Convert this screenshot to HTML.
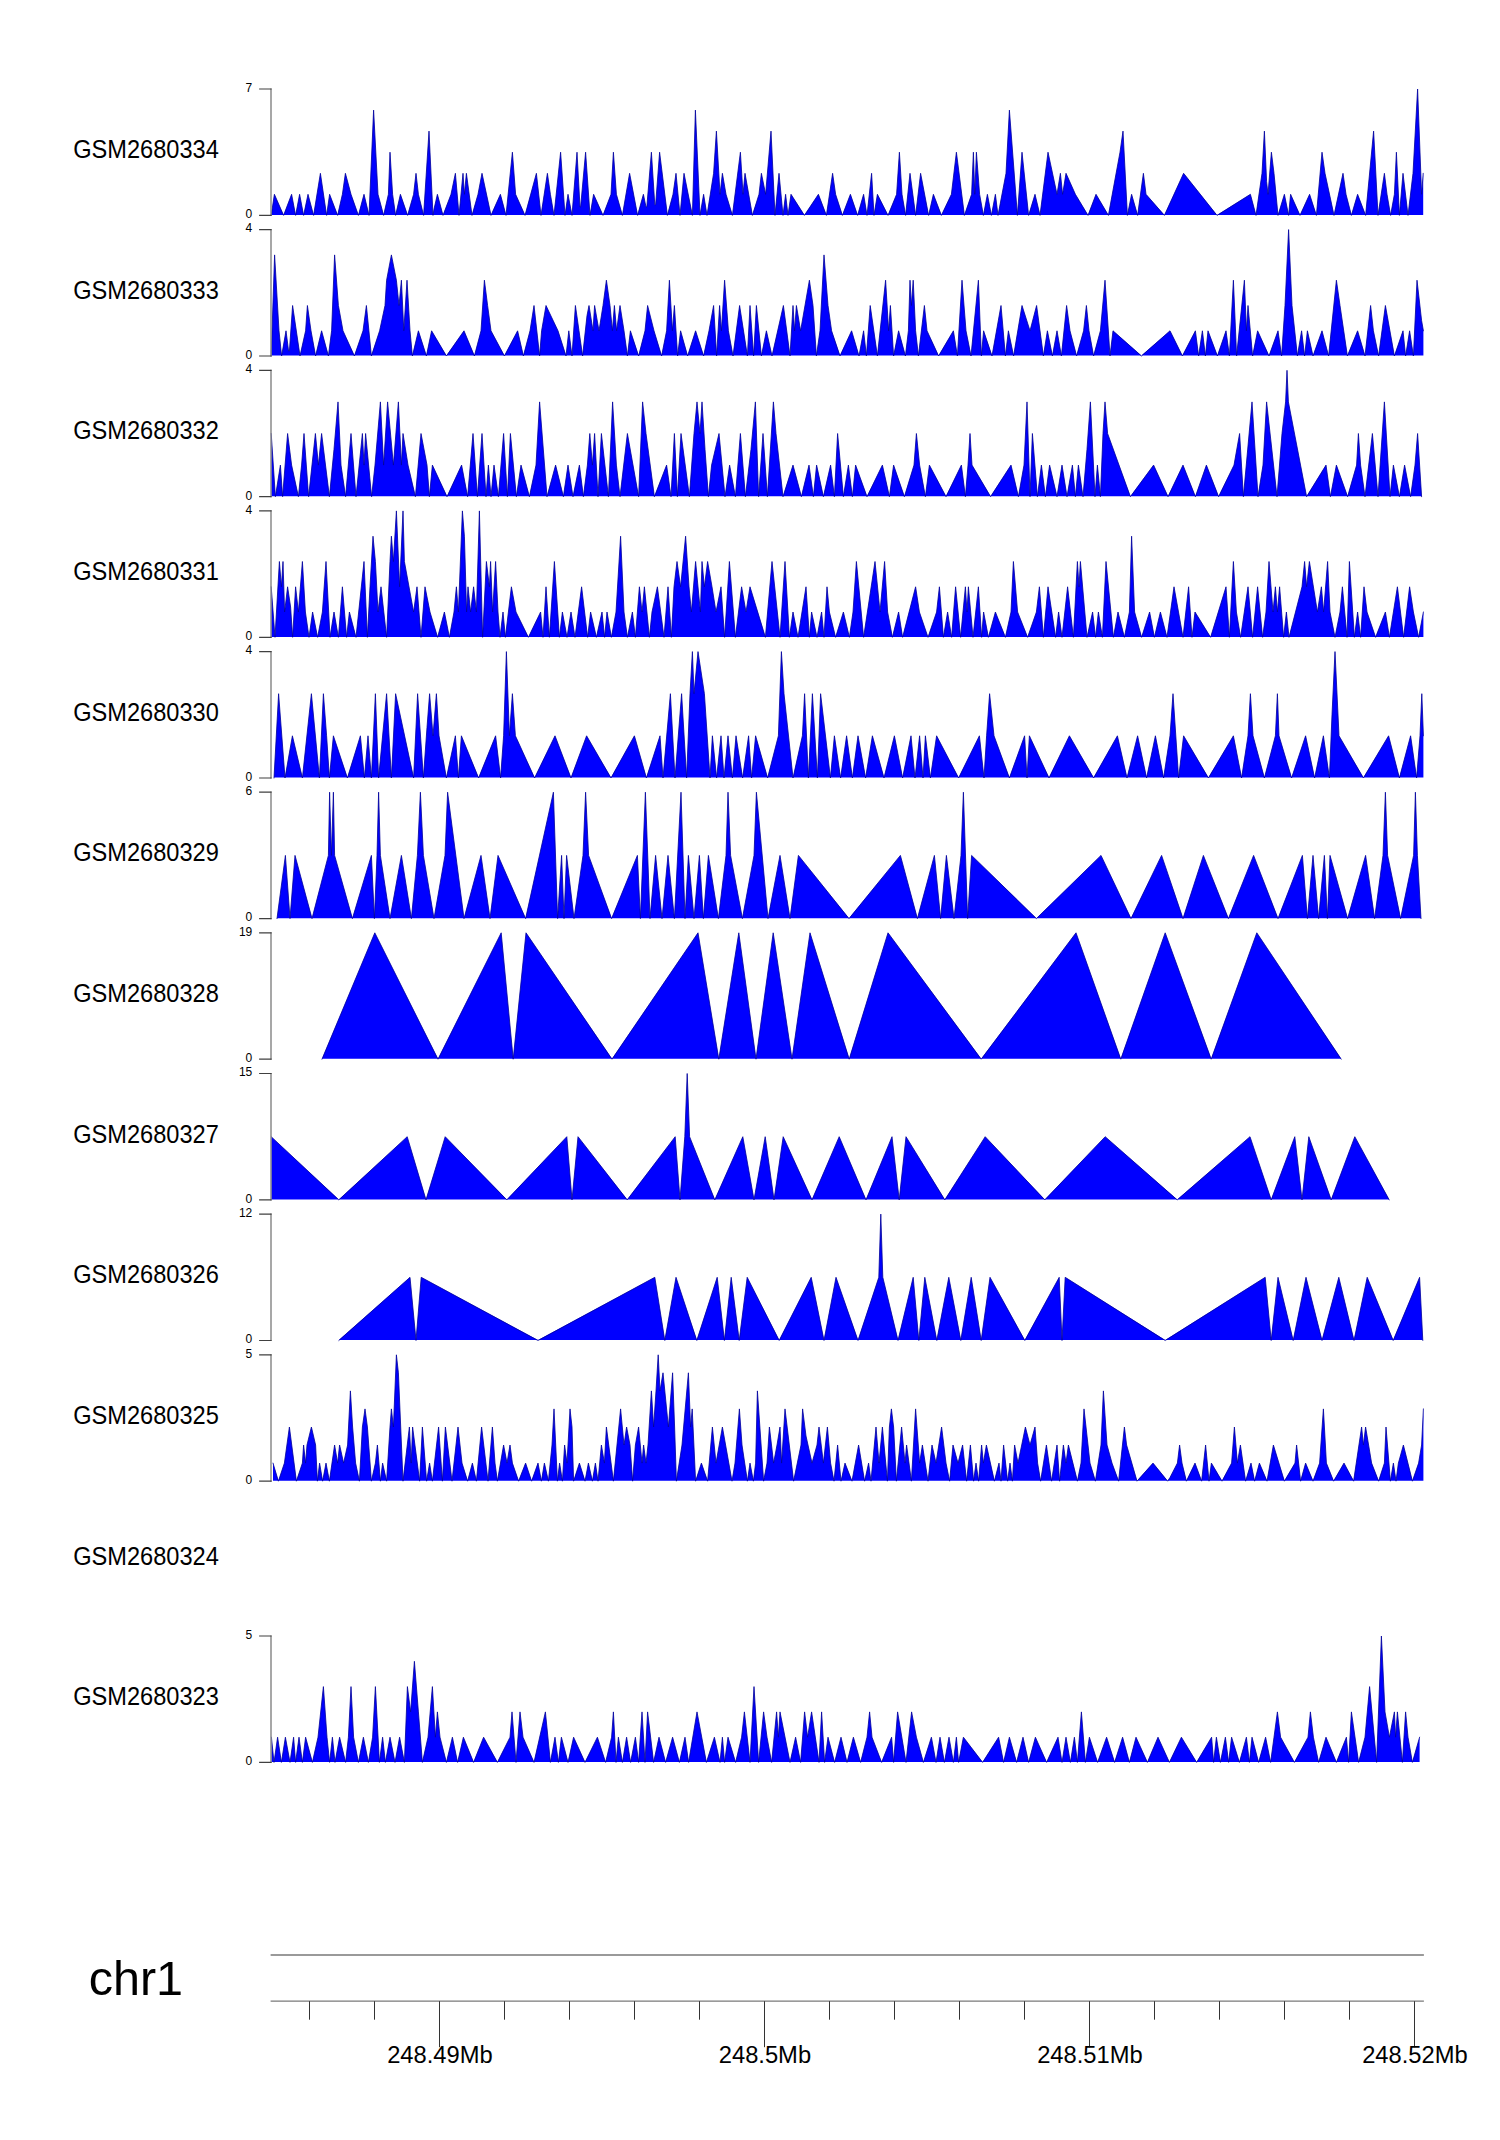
<!DOCTYPE html><html><head><meta charset="utf-8"><title>chr1 tracks</title><style>html,body{margin:0;padding:0;background:#fff}svg{display:block}text{font-family:"Liberation Sans",sans-serif;fill:#000}</style></head><body>
<svg width="1500" height="2140" viewBox="0 0 1500 2140">
<rect width="1500" height="2140" fill="#fff"/>
<text transform="translate(73.2 158.1) scale(0.976 1.03)" font-size="24.2">GSM2680334</text>
<polygon points="271.2,215.0 271.2,215.0 274.4,194.3 283.6,215.0 291.6,194.3 295.6,215.0 299.6,194.3 303.6,215.0 308.0,194.3 313.6,215.0 320.4,173.3 326.6,215.0 329.6,194.3 337.6,215.0 342.4,194.3 345.4,173.3 351.0,194.3 358.4,215.0 364.0,194.3 369.0,215.0 373.6,110.1 378.0,194.3 383.6,215.0 388.4,194.3 390.0,152.2 392.6,194.3 395.6,215.0 400.4,194.3 407.6,215.0 413.6,194.3 416.0,173.3 418.4,194.3 423.6,215.0 429.0,131.1 433.0,215.0 434.0,209.1 437.4,194.3 443.0,215.0 451.0,194.3 455.4,173.3 459.0,215.0 463.0,173.3 464.4,194.3 466.4,173.3 472.0,215.0 478.0,194.3 482.0,173.3 491.0,215.0 500.4,194.3 506.0,215.0 512.4,152.2 515.6,194.3 525.0,215.0 536.4,173.3 541.0,215.0 547.4,173.3 550.4,194.3 554.0,215.0 560.6,152.2 565.0,215.0 568.0,194.3 572.0,215.0 577.0,152.2 580.0,207.0 580.6,207.0 585.6,152.2 590.0,215.0 593.6,194.3 603.0,215.0 611.0,194.3 613.4,152.2 616.4,194.3 622.4,215.0 629.6,173.3 637.6,215.0 643.4,194.3 646.0,207.0 646.8,207.0 651.4,152.2 654.8,204.9 655.6,204.9 659.6,152.2 667.4,215.0 673.0,194.3 676.0,173.3 680.0,215.0 684.0,173.3 692.4,215.0 695.4,110.1 700.0,215.0 703.6,194.3 707.0,215.0 713.6,173.3 716.4,131.1 720.0,194.3 722.4,173.3 726.0,194.3 732.4,215.0 740.4,152.2 743.0,194.3 745.0,173.3 752.4,215.0 759.0,194.3 761.4,173.3 765.6,194.3 771.0,131.1 775.0,215.0 779.0,173.3 783.0,215.0 785.6,194.3 788.0,215.0 791.0,194.3 804.4,215.0 818.4,194.3 826.4,215.0 832.6,173.3 835.6,194.3 842.4,215.0 850.4,194.3 857.6,215.0 863.6,194.3 867.0,215.0 871.6,173.3 874.0,215.0 877.4,194.3 888.0,215.0 896.6,194.3 899.4,152.2 902.0,194.3 905.6,215.0 910.0,173.3 915.6,215.0 920.6,173.3 928.6,215.0 933.4,194.3 941.4,215.0 951.4,194.3 956.4,152.2 964.4,215.0 971.6,194.3 973.4,152.2 974.8,194.3 976.4,152.2 979.6,194.3 983.4,215.0 987.4,194.3 991.4,215.0 995.4,194.3 998.0,215.0 1006.0,173.3 1009.4,110.1 1017.4,215.0 1022.0,152.2 1028.6,215.0 1035.0,194.3 1040.0,215.0 1048.0,152.2 1057.0,194.3 1060.4,173.3 1062.6,194.3 1066.0,173.3 1075.4,194.3 1088.0,215.0 1096.0,194.3 1108.4,215.0 1120.0,152.2 1123.0,131.1 1127.4,215.0 1131.6,194.3 1137.6,215.0 1143.4,173.3 1146.0,194.3 1164.4,215.0 1183.6,173.3 1217.0,215.0 1250.4,194.3 1256.0,215.0 1262.0,173.3 1264.4,131.1 1266.6,181.7 1268.0,194.3 1271.4,152.2 1274.0,173.3 1278.0,215.0 1284.4,194.3 1288.6,215.0 1290.6,194.3 1300.0,215.0 1309.6,194.3 1316.4,215.0 1322.0,152.2 1325.0,173.3 1334.0,215.0 1343.0,173.3 1346.0,194.3 1351.4,215.0 1357.6,194.3 1365.6,215.0 1373.6,131.1 1378.0,215.0 1384.4,173.3 1387.0,194.3 1390.6,215.0 1394.4,194.3 1396.4,152.2 1399.4,215.0 1403.0,173.3 1408.0,215.0 1413.0,173.3 1417.6,89.0 1421.6,194.3 1423.2,173.3 1423.2,215.0" fill="#0000ff"/>
<polyline points="271.2,215.4 274.4,194.3 283.6,215.4 291.6,194.3 295.6,215.4 299.6,194.3 303.6,215.4 308.0,194.3 313.6,215.4 320.4,173.3 326.6,215.4 329.6,194.3 337.6,215.4 342.4,194.3 345.4,173.3 351.0,194.3 358.4,215.4 364.0,194.3 369.0,215.4 373.6,110.1 378.0,194.3 383.6,215.4 388.4,194.3 390.0,152.2 392.6,194.3 395.6,215.4 400.4,194.3 407.6,215.4 413.6,194.3 416.0,173.3 418.4,194.3 423.6,215.4 429.0,131.1 433.0,215.4 434.0,209.1 437.4,194.3 443.0,215.4 451.0,194.3 455.4,173.3 459.0,215.4 463.0,173.3 464.4,194.3 466.4,173.3 472.0,215.4 478.0,194.3 482.0,173.3 491.0,215.4 500.4,194.3 506.0,215.4 512.4,152.2 515.6,194.3 525.0,215.4 536.4,173.3 541.0,215.4 547.4,173.3 550.4,194.3 554.0,215.4 560.6,152.2 565.0,215.4 568.0,194.3 572.0,215.4 577.0,152.2 580.0,207.0 580.6,207.0 585.6,152.2 590.0,215.4 593.6,194.3 603.0,215.4 611.0,194.3 613.4,152.2 616.4,194.3 622.4,215.4 629.6,173.3 637.6,215.4 643.4,194.3 646.0,207.0 646.8,207.0 651.4,152.2 654.8,204.9 655.6,204.9 659.6,152.2 667.4,215.4 673.0,194.3 676.0,173.3 680.0,215.4 684.0,173.3 692.4,215.4 695.4,110.1 700.0,215.4 703.6,194.3 707.0,215.4 713.6,173.3 716.4,131.1 720.0,194.3 722.4,173.3 726.0,194.3 732.4,215.4 740.4,152.2 743.0,194.3 745.0,173.3 752.4,215.4 759.0,194.3 761.4,173.3 765.6,194.3 771.0,131.1 775.0,215.4 779.0,173.3 783.0,215.4 785.6,194.3 788.0,215.4 791.0,194.3 804.4,215.4 818.4,194.3 826.4,215.4 832.6,173.3 835.6,194.3 842.4,215.4 850.4,194.3 857.6,215.4 863.6,194.3 867.0,215.4 871.6,173.3 874.0,215.4 877.4,194.3 888.0,215.4 896.6,194.3 899.4,152.2 902.0,194.3 905.6,215.4 910.0,173.3 915.6,215.4 920.6,173.3 928.6,215.4 933.4,194.3 941.4,215.4 951.4,194.3 956.4,152.2 964.4,215.4 971.6,194.3 973.4,152.2 974.8,194.3 976.4,152.2 979.6,194.3 983.4,215.4 987.4,194.3 991.4,215.4 995.4,194.3 998.0,215.4 1006.0,173.3 1009.4,110.1 1017.4,215.4 1022.0,152.2 1028.6,215.4 1035.0,194.3 1040.0,215.4 1048.0,152.2 1057.0,194.3 1060.4,173.3 1062.6,194.3 1066.0,173.3 1075.4,194.3 1088.0,215.4 1096.0,194.3 1108.4,215.4 1120.0,152.2 1123.0,131.1 1127.4,215.4 1131.6,194.3 1137.6,215.4 1143.4,173.3 1146.0,194.3 1164.4,215.4 1183.6,173.3 1217.0,215.4 1250.4,194.3 1256.0,215.4 1262.0,173.3 1264.4,131.1 1266.6,181.7 1268.0,194.3 1271.4,152.2 1274.0,173.3 1278.0,215.4 1284.4,194.3 1288.6,215.4 1290.6,194.3 1300.0,215.4 1309.6,194.3 1316.4,215.4 1322.0,152.2 1325.0,173.3 1334.0,215.4 1343.0,173.3 1346.0,194.3 1351.4,215.4 1357.6,194.3 1365.6,215.4 1373.6,131.1 1378.0,215.4 1384.4,173.3 1387.0,194.3 1390.6,215.4 1394.4,194.3 1396.4,152.2 1399.4,215.4 1403.0,173.3 1408.0,215.4 1413.0,173.3 1417.6,89.0 1421.6,194.3 1423.2,173.3" fill="none" stroke="#00009b" stroke-width="0.8" stroke-linejoin="round" stroke-linecap="round"/>
<path d="M271 88.4V216.0" fill="none" stroke="#8a8a8a" stroke-width="1.5"/>
<path d="M259.1 89.0H271.6M259.1 215.4H271.6" fill="none" stroke="#404040" stroke-width="1.2"/>
<text x="252.3" y="91.8" font-size="12" text-anchor="end">7</text>
<text x="252.3" y="218.2" font-size="12" text-anchor="end">0</text>
<text transform="translate(73.2 298.7) scale(0.976 1.03)" font-size="24.2">GSM2680333</text>
<polygon points="271.2,355.6 271.2,355.6 274.6,254.9 279.0,330.8 281.6,355.6 286.0,330.8 288.6,351.0 289.4,351.0 292.6,305.5 300.0,355.6 305.6,330.8 307.4,305.5 311.0,330.8 315.6,355.6 321.6,330.8 328.4,355.6 331.6,330.8 334.6,254.9 338.4,305.5 343.0,330.8 354.4,355.6 363.0,330.8 366.4,305.5 371.4,355.6 379.6,330.8 385.0,305.5 386.6,280.2 391.4,254.9 396.4,280.2 399.0,305.5 401.4,280.2 403.8,330.8 407.0,280.2 410.0,330.8 412.4,355.6 418.4,330.8 426.4,355.6 431.6,330.8 446.4,355.6 464.0,330.8 474.4,355.6 481.0,330.8 484.4,280.2 487.6,305.5 491.0,330.8 504.4,355.6 517.6,330.8 523.4,355.6 530.0,330.8 534.0,305.5 539.6,355.6 541.6,330.8 546.0,305.5 558.0,330.8 566.0,355.6 568.8,330.8 572.0,355.6 575.4,305.5 579.0,330.8 582.6,355.6 587.0,315.6 589.0,305.5 593.0,330.8 594.6,305.5 599.0,330.8 603.0,305.5 606.4,280.2 610.0,305.5 612.4,330.8 614.4,305.5 616.6,330.8 620.0,305.5 624.0,330.8 627.4,355.6 630.4,330.8 638.6,355.6 645.0,330.8 647.6,305.5 654.0,330.8 661.6,355.6 666.6,330.8 669.4,280.2 672.4,330.8 674.4,305.5 677.6,355.6 680.6,330.8 687.6,355.6 695.6,330.8 703.6,355.6 709.0,330.8 713.6,305.5 716.6,355.6 719.6,305.5 721.4,330.8 724.6,280.2 728.4,330.8 733.0,355.6 739.6,305.5 747.4,355.6 750.0,305.5 753.6,355.6 756.4,305.5 761.4,355.6 766.4,330.8 772.0,355.6 783.4,305.5 790.0,355.6 793.0,305.5 794.6,330.8 796.4,305.5 800.6,330.8 809.4,280.2 813.0,305.5 816.4,355.6 820.0,330.8 824.0,254.9 828.0,305.5 831.6,330.8 840.0,355.6 851.6,330.8 859.0,355.6 863.6,330.8 866.4,355.6 870.2,305.5 877.4,355.6 885.6,280.2 888.6,330.8 890.4,305.5 893.6,355.6 898.6,330.8 905.4,355.6 908.4,330.8 910.0,280.2 911.4,305.5 913.2,280.2 915.6,330.8 918.4,355.6 924.4,305.5 927.0,330.8 938.6,355.6 953.4,330.8 957.4,355.6 962.0,280.2 966.0,330.8 971.0,355.6 978.4,280.2 981.4,355.6 983.6,330.8 992.0,355.6 1001.0,305.5 1005.4,355.6 1008.4,330.8 1013.6,355.6 1022.0,305.5 1030.0,330.8 1036.6,305.5 1043.4,355.6 1047.4,330.8 1052.4,355.6 1057.0,330.8 1061.4,355.6 1066.6,305.5 1070.0,330.8 1076.6,355.6 1083.6,330.8 1086.4,305.5 1089.0,330.8 1093.6,355.6 1100.4,330.8 1105.0,280.2 1110.0,355.6 1113.0,330.8 1141.4,355.6 1170.0,330.8 1182.4,355.6 1195.4,330.8 1198.6,355.6 1202.4,330.8 1205.4,355.6 1208.0,330.8 1217.4,355.6 1226.0,330.8 1229.4,355.6 1233.4,280.2 1236.6,355.6 1244.4,280.2 1246.4,330.8 1248.0,305.5 1252.6,355.6 1257.6,330.8 1269.0,355.6 1278.0,330.8 1281.6,355.6 1285.0,305.5 1288.6,229.6 1292.0,305.5 1297.4,355.6 1301.6,330.8 1304.6,355.6 1307.4,330.8 1313.0,355.6 1322.0,330.8 1328.6,355.6 1336.4,280.2 1340.0,305.5 1347.4,355.6 1357.6,330.8 1365.0,355.6 1370.6,305.5 1373.4,330.8 1378.6,355.6 1385.4,305.5 1394.4,355.6 1403.0,330.8 1405.6,355.6 1409.6,330.8 1413.4,355.6 1417.0,280.2 1421.6,320.6 1423.4,330.8 1423.4,355.6" fill="#0000ff"/>
<polyline points="271.2,356.0 274.6,254.9 279.0,330.8 281.6,356.0 286.0,330.8 288.6,351.0 289.4,351.0 292.6,305.5 300.0,356.0 305.6,330.8 307.4,305.5 311.0,330.8 315.6,356.0 321.6,330.8 328.4,356.0 331.6,330.8 334.6,254.9 338.4,305.5 343.0,330.8 354.4,356.0 363.0,330.8 366.4,305.5 371.4,356.0 379.6,330.8 385.0,305.5 386.6,280.2 391.4,254.9 396.4,280.2 399.0,305.5 401.4,280.2 403.8,330.8 407.0,280.2 410.0,330.8 412.4,356.0 418.4,330.8 426.4,356.0 431.6,330.8 446.4,356.0 464.0,330.8 474.4,356.0 481.0,330.8 484.4,280.2 487.6,305.5 491.0,330.8 504.4,356.0 517.6,330.8 523.4,356.0 530.0,330.8 534.0,305.5 539.6,356.0 541.6,330.8 546.0,305.5 558.0,330.8 566.0,356.0 568.8,330.8 572.0,356.0 575.4,305.5 579.0,330.8 582.6,356.0 587.0,315.6 589.0,305.5 593.0,330.8 594.6,305.5 599.0,330.8 603.0,305.5 606.4,280.2 610.0,305.5 612.4,330.8 614.4,305.5 616.6,330.8 620.0,305.5 624.0,330.8 627.4,356.0 630.4,330.8 638.6,356.0 645.0,330.8 647.6,305.5 654.0,330.8 661.6,356.0 666.6,330.8 669.4,280.2 672.4,330.8 674.4,305.5 677.6,356.0 680.6,330.8 687.6,356.0 695.6,330.8 703.6,356.0 709.0,330.8 713.6,305.5 716.6,356.0 719.6,305.5 721.4,330.8 724.6,280.2 728.4,330.8 733.0,356.0 739.6,305.5 747.4,356.0 750.0,305.5 753.6,356.0 756.4,305.5 761.4,356.0 766.4,330.8 772.0,356.0 783.4,305.5 790.0,356.0 793.0,305.5 794.6,330.8 796.4,305.5 800.6,330.8 809.4,280.2 813.0,305.5 816.4,356.0 820.0,330.8 824.0,254.9 828.0,305.5 831.6,330.8 840.0,356.0 851.6,330.8 859.0,356.0 863.6,330.8 866.4,356.0 870.2,305.5 877.4,356.0 885.6,280.2 888.6,330.8 890.4,305.5 893.6,356.0 898.6,330.8 905.4,356.0 908.4,330.8 910.0,280.2 911.4,305.5 913.2,280.2 915.6,330.8 918.4,356.0 924.4,305.5 927.0,330.8 938.6,356.0 953.4,330.8 957.4,356.0 962.0,280.2 966.0,330.8 971.0,356.0 978.4,280.2 981.4,356.0 983.6,330.8 992.0,356.0 1001.0,305.5 1005.4,356.0 1008.4,330.8 1013.6,356.0 1022.0,305.5 1030.0,330.8 1036.6,305.5 1043.4,356.0 1047.4,330.8 1052.4,356.0 1057.0,330.8 1061.4,356.0 1066.6,305.5 1070.0,330.8 1076.6,356.0 1083.6,330.8 1086.4,305.5 1089.0,330.8 1093.6,356.0 1100.4,330.8 1105.0,280.2 1110.0,356.0 1113.0,330.8 1141.4,356.0 1170.0,330.8 1182.4,356.0 1195.4,330.8 1198.6,356.0 1202.4,330.8 1205.4,356.0 1208.0,330.8 1217.4,356.0 1226.0,330.8 1229.4,356.0 1233.4,280.2 1236.6,356.0 1244.4,280.2 1246.4,330.8 1248.0,305.5 1252.6,356.0 1257.6,330.8 1269.0,356.0 1278.0,330.8 1281.6,356.0 1285.0,305.5 1288.6,229.6 1292.0,305.5 1297.4,356.0 1301.6,330.8 1304.6,356.0 1307.4,330.8 1313.0,356.0 1322.0,330.8 1328.6,356.0 1336.4,280.2 1340.0,305.5 1347.4,356.0 1357.6,330.8 1365.0,356.0 1370.6,305.5 1373.4,330.8 1378.6,356.0 1385.4,305.5 1394.4,356.0 1403.0,330.8 1405.6,356.0 1409.6,330.8 1413.4,356.0 1417.0,280.2 1421.6,320.6 1423.4,330.8" fill="none" stroke="#00009b" stroke-width="0.8" stroke-linejoin="round" stroke-linecap="round"/>
<path d="M271 229.0V356.6" fill="none" stroke="#8a8a8a" stroke-width="1.5"/>
<path d="M259.1 229.6H271.6M259.1 356.0H271.6" fill="none" stroke="#404040" stroke-width="1.2"/>
<text x="252.3" y="232.4" font-size="12" text-anchor="end">4</text>
<text x="252.3" y="358.8" font-size="12" text-anchor="end">0</text>
<text transform="translate(73.2 439.4) scale(0.976 1.03)" font-size="24.2">GSM2680332</text>
<polygon points="271.2,496.3 271.2,433.5 275.4,496.3 280.4,465.1 282.6,496.3 287.6,433.5 291.6,465.1 298.4,496.3 301.6,465.1 304.0,433.5 308.6,496.3 315.4,433.5 318.4,465.1 321.6,433.5 329.4,496.3 334.0,449.3 338.0,401.9 341.0,465.1 345.6,496.3 351.0,433.5 356.0,496.3 362.4,433.5 364.0,465.1 365.6,433.5 371.6,496.3 375.0,465.1 380.4,401.9 383.6,465.1 387.6,401.9 393.4,465.1 398.4,401.9 401.4,465.1 403.0,433.5 408.0,465.1 415.4,496.3 421.0,433.5 427.0,465.1 429.4,496.3 432.4,465.1 447.0,496.3 461.6,465.1 467.6,496.3 473.0,433.5 477.4,496.3 482.0,433.5 486.0,496.3 488.4,465.1 491.0,496.3 494.0,465.1 498.4,496.3 503.6,433.5 507.4,496.3 510.4,433.5 516.4,496.3 521.0,465.1 529.4,496.3 536.0,465.1 539.6,401.9 547.0,496.3 555.6,465.1 563.4,496.3 568.0,465.1 573.0,496.3 579.4,465.1 583.4,496.3 587.4,465.1 589.8,433.5 592.4,465.1 594.6,433.5 598.0,496.3 601.4,433.5 608.4,496.3 612.6,401.9 616.4,465.1 620.0,496.3 627.4,433.5 638.6,496.3 642.6,401.9 646.0,433.5 654.4,496.3 666.6,465.1 671.0,496.3 674.4,433.5 677.4,496.3 681.0,433.5 689.4,496.3 694.0,433.5 697.0,401.9 700.0,433.5 702.0,401.9 705.0,449.3 708.4,496.3 711.6,465.1 719.0,433.5 725.0,496.3 729.6,465.1 735.4,496.3 740.4,433.5 745.4,496.3 751.0,449.3 755.4,401.9 758.6,496.3 763.0,433.5 767.4,496.3 773.4,401.9 776.0,433.5 783.0,496.3 793.0,465.1 801.4,496.3 809.0,465.1 813.4,496.3 816.6,465.1 823.4,496.3 830.6,465.1 834.4,496.3 837.6,433.5 843.4,496.3 848.4,465.1 852.4,496.3 855.6,465.1 867.0,496.3 882.4,465.1 889.4,496.3 893.6,465.1 904.4,496.3 914.0,465.1 916.4,433.5 919.6,465.1 925.4,496.3 929.4,465.1 946.0,496.3 961.4,465.1 965.4,496.3 968.0,465.1 970.0,433.5 972.0,465.1 990.6,496.3 1011.0,465.1 1018.4,496.3 1024.0,465.1 1027.0,401.9 1030.0,496.3 1032.4,433.5 1037.4,496.3 1041.4,465.1 1045.4,496.3 1049.6,465.1 1057.0,496.3 1062.0,465.1 1067.0,496.3 1072.4,465.1 1075.4,496.3 1078.4,465.1 1083.0,496.3 1087.0,449.3 1090.4,401.9 1095.0,496.3 1097.4,465.1 1100.4,496.3 1103.0,433.5 1105.0,401.9 1107.6,433.5 1130.4,496.3 1153.6,465.1 1168.0,496.3 1183.0,465.1 1195.4,496.3 1206.4,465.1 1218.6,496.3 1234.0,465.1 1239.6,433.5 1243.4,496.3 1252.0,401.9 1258.0,496.3 1263.0,465.1 1266.6,401.9 1277.0,496.3 1282.0,433.5 1285.6,401.9 1287.0,370.3 1288.4,401.9 1306.6,496.3 1326.0,465.1 1330.4,496.3 1336.4,465.1 1347.6,496.3 1356.6,465.1 1358.4,433.5 1360.6,465.1 1365.0,496.3 1372.4,433.5 1378.0,496.3 1384.4,401.9 1390.0,496.3 1393.4,465.1 1399.4,496.3 1404.6,465.1 1410.6,496.3 1415.0,465.1 1417.6,433.5 1421.6,496.3 1421.6,496.3" fill="#0000ff"/>
<polyline points="271.2,433.5 275.4,496.7 280.4,465.1 282.6,496.7 287.6,433.5 291.6,465.1 298.4,496.7 301.6,465.1 304.0,433.5 308.6,496.7 315.4,433.5 318.4,465.1 321.6,433.5 329.4,496.7 334.0,449.3 338.0,401.9 341.0,465.1 345.6,496.7 351.0,433.5 356.0,496.7 362.4,433.5 364.0,465.1 365.6,433.5 371.6,496.7 375.0,465.1 380.4,401.9 383.6,465.1 387.6,401.9 393.4,465.1 398.4,401.9 401.4,465.1 403.0,433.5 408.0,465.1 415.4,496.7 421.0,433.5 427.0,465.1 429.4,496.7 432.4,465.1 447.0,496.7 461.6,465.1 467.6,496.7 473.0,433.5 477.4,496.7 482.0,433.5 486.0,496.7 488.4,465.1 491.0,496.7 494.0,465.1 498.4,496.7 503.6,433.5 507.4,496.7 510.4,433.5 516.4,496.7 521.0,465.1 529.4,496.7 536.0,465.1 539.6,401.9 547.0,496.7 555.6,465.1 563.4,496.7 568.0,465.1 573.0,496.7 579.4,465.1 583.4,496.7 587.4,465.1 589.8,433.5 592.4,465.1 594.6,433.5 598.0,496.7 601.4,433.5 608.4,496.7 612.6,401.9 616.4,465.1 620.0,496.7 627.4,433.5 638.6,496.7 642.6,401.9 646.0,433.5 654.4,496.7 666.6,465.1 671.0,496.7 674.4,433.5 677.4,496.7 681.0,433.5 689.4,496.7 694.0,433.5 697.0,401.9 700.0,433.5 702.0,401.9 705.0,449.3 708.4,496.7 711.6,465.1 719.0,433.5 725.0,496.7 729.6,465.1 735.4,496.7 740.4,433.5 745.4,496.7 751.0,449.3 755.4,401.9 758.6,496.7 763.0,433.5 767.4,496.7 773.4,401.9 776.0,433.5 783.0,496.7 793.0,465.1 801.4,496.7 809.0,465.1 813.4,496.7 816.6,465.1 823.4,496.7 830.6,465.1 834.4,496.7 837.6,433.5 843.4,496.7 848.4,465.1 852.4,496.7 855.6,465.1 867.0,496.7 882.4,465.1 889.4,496.7 893.6,465.1 904.4,496.7 914.0,465.1 916.4,433.5 919.6,465.1 925.4,496.7 929.4,465.1 946.0,496.7 961.4,465.1 965.4,496.7 968.0,465.1 970.0,433.5 972.0,465.1 990.6,496.7 1011.0,465.1 1018.4,496.7 1024.0,465.1 1027.0,401.9 1030.0,496.7 1032.4,433.5 1037.4,496.7 1041.4,465.1 1045.4,496.7 1049.6,465.1 1057.0,496.7 1062.0,465.1 1067.0,496.7 1072.4,465.1 1075.4,496.7 1078.4,465.1 1083.0,496.7 1087.0,449.3 1090.4,401.9 1095.0,496.7 1097.4,465.1 1100.4,496.7 1103.0,433.5 1105.0,401.9 1107.6,433.5 1130.4,496.7 1153.6,465.1 1168.0,496.7 1183.0,465.1 1195.4,496.7 1206.4,465.1 1218.6,496.7 1234.0,465.1 1239.6,433.5 1243.4,496.7 1252.0,401.9 1258.0,496.7 1263.0,465.1 1266.6,401.9 1277.0,496.7 1282.0,433.5 1285.6,401.9 1287.0,370.3 1288.4,401.9 1306.6,496.7 1326.0,465.1 1330.4,496.7 1336.4,465.1 1347.6,496.7 1356.6,465.1 1358.4,433.5 1360.6,465.1 1365.0,496.7 1372.4,433.5 1378.0,496.7 1384.4,401.9 1390.0,496.7 1393.4,465.1 1399.4,496.7 1404.6,465.1 1410.6,496.7 1415.0,465.1 1417.6,433.5 1421.6,496.7" fill="none" stroke="#00009b" stroke-width="0.8" stroke-linejoin="round" stroke-linecap="round"/>
<path d="M271 369.7V497.3" fill="none" stroke="#8a8a8a" stroke-width="1.5"/>
<path d="M259.1 370.3H271.6M259.1 496.7H271.6" fill="none" stroke="#404040" stroke-width="1.2"/>
<text x="252.3" y="373.1" font-size="12" text-anchor="end">4</text>
<text x="252.3" y="499.5" font-size="12" text-anchor="end">0</text>
<text transform="translate(73.2 580.0) scale(0.976 1.03)" font-size="24.2">GSM2680331</text>
<polygon points="271.2,636.9 271.2,586.8 275.0,636.9 279.4,561.5 281.4,586.8 283.0,561.5 284.6,612.0 287.6,586.8 290.6,607.0 292.6,636.9 295.6,586.8 298.4,612.0 302.4,561.5 305.4,612.0 309.0,636.9 312.6,612.0 317.6,636.9 322.4,612.0 326.0,561.5 330.0,636.9 334.0,612.0 338.4,636.9 342.4,586.8 346.6,636.9 349.4,612.0 356.0,636.9 364.0,561.5 367.4,636.9 370.0,586.8 373.0,536.2 375.4,561.5 378.0,612.0 381.0,586.8 386.6,636.9 390.0,561.5 391.4,536.2 393.4,561.5 396.4,510.9 399.6,586.8 403.0,510.9 404.4,561.5 413.6,612.0 417.0,586.8 421.0,636.9 425.0,586.8 430.0,612.0 437.6,636.9 444.4,612.0 449.4,636.9 454.0,612.0 456.4,586.8 458.4,612.0 462.4,510.9 464.4,536.2 466.6,612.0 468.0,586.8 470.6,612.0 473.6,586.8 476.4,612.0 479.4,510.9 482.6,636.9 486.4,561.5 489.4,586.8 490.6,561.5 492.6,612.0 495.6,561.5 498.0,612.0 500.0,636.9 503.0,612.0 505.4,636.9 511.4,586.8 516.0,612.0 528.4,636.9 540.6,612.0 543.0,636.9 546.0,586.8 549.4,636.9 554.4,561.5 559.4,636.9 562.4,612.0 567.0,636.9 571.0,612.0 575.0,636.9 581.6,586.8 587.6,636.9 590.6,612.0 596.4,636.9 602.0,612.0 604.6,636.9 607.0,612.0 611.4,636.9 616.0,612.0 620.6,536.2 624.0,612.0 627.4,636.9 632.4,612.0 635.4,636.9 639.4,586.8 642.0,612.0 644.4,586.8 649.4,636.9 652.0,612.0 657.4,586.8 664.0,636.9 668.0,586.8 671.4,636.9 674.0,586.8 677.0,561.5 680.6,586.8 685.6,536.2 689.0,586.8 691.4,612.0 695.6,561.5 700.4,612.0 702.0,561.5 704.4,586.8 707.6,561.5 712.0,586.8 716.0,612.0 721.0,586.8 724.6,636.9 729.4,561.5 735.4,636.9 741.6,586.8 746.0,612.0 750.0,586.8 765.4,636.9 772.0,561.5 780.0,636.9 785.0,561.5 789.4,636.9 793.0,612.0 798.0,636.9 806.0,586.8 809.4,636.9 811.6,612.0 817.0,636.9 821.6,612.0 824.0,636.9 827.0,586.8 829.4,612.0 835.6,636.9 843.4,612.0 849.4,636.9 853.0,612.0 856.4,561.5 863.6,636.9 875.0,561.5 880.0,612.0 884.6,561.5 887.6,612.0 892.4,636.9 898.6,612.0 902.6,636.9 915.6,586.8 919.4,612.0 928.0,636.9 936.6,612.0 939.4,586.8 943.4,636.9 947.6,612.0 951.6,636.9 955.6,586.8 960.6,636.9 965.4,586.8 967.0,612.0 968.4,586.8 973.0,636.9 978.4,586.8 981.6,636.9 983.6,612.0 988.4,636.9 995.4,612.0 1005.4,636.9 1011.0,612.0 1013.4,561.5 1017.6,612.0 1027.6,636.9 1036.4,612.0 1039.4,586.8 1043.4,636.9 1048.0,586.8 1055.6,636.9 1058.6,612.0 1062.0,636.9 1067.6,586.8 1073.4,636.9 1077.4,561.5 1079.0,586.8 1080.4,561.5 1087.0,636.9 1092.6,612.0 1095.6,636.9 1098.4,612.0 1102.4,636.9 1106.0,561.5 1113.4,636.9 1118.0,612.0 1124.4,636.9 1129.4,612.0 1131.6,536.2 1134.6,612.0 1141.6,636.9 1149.6,612.0 1154.4,636.9 1160.4,612.0 1167.0,636.9 1174.0,586.8 1183.0,636.9 1188.6,586.8 1192.0,636.9 1195.0,612.0 1210.6,636.9 1226.0,586.8 1229.4,636.9 1233.4,561.5 1236.4,612.0 1240.6,636.9 1248.0,586.8 1252.6,636.9 1257.6,586.8 1262.6,636.9 1266.0,612.0 1269.0,561.5 1273.0,612.0 1275.4,586.8 1277.4,612.0 1279.6,586.8 1283.6,636.9 1286.4,612.0 1289.0,636.9 1302.0,586.8 1304.6,561.5 1306.6,586.8 1309.4,561.5 1317.4,612.0 1321.4,586.8 1323.6,612.0 1327.6,561.5 1330.0,612.0 1335.0,636.9 1340.0,612.0 1342.4,586.8 1347.0,636.9 1349.4,561.5 1354.4,636.9 1357.6,612.0 1360.6,636.9 1364.0,586.8 1367.0,612.0 1375.6,636.9 1385.4,612.0 1389.4,636.9 1397.4,586.8 1403.6,636.9 1409.6,586.8 1413.4,612.0 1418.6,636.9 1423.4,612.0 1423.4,636.9" fill="#0000ff"/>
<polyline points="271.2,586.8 275.0,637.3 279.4,561.5 281.4,586.8 283.0,561.5 284.6,612.0 287.6,586.8 290.6,607.0 292.6,637.3 295.6,586.8 298.4,612.0 302.4,561.5 305.4,612.0 309.0,637.3 312.6,612.0 317.6,637.3 322.4,612.0 326.0,561.5 330.0,637.3 334.0,612.0 338.4,637.3 342.4,586.8 346.6,637.3 349.4,612.0 356.0,637.3 364.0,561.5 367.4,637.3 370.0,586.8 373.0,536.2 375.4,561.5 378.0,612.0 381.0,586.8 386.6,637.3 390.0,561.5 391.4,536.2 393.4,561.5 396.4,510.9 399.6,586.8 403.0,510.9 404.4,561.5 413.6,612.0 417.0,586.8 421.0,637.3 425.0,586.8 430.0,612.0 437.6,637.3 444.4,612.0 449.4,637.3 454.0,612.0 456.4,586.8 458.4,612.0 462.4,510.9 464.4,536.2 466.6,612.0 468.0,586.8 470.6,612.0 473.6,586.8 476.4,612.0 479.4,510.9 482.6,637.3 486.4,561.5 489.4,586.8 490.6,561.5 492.6,612.0 495.6,561.5 498.0,612.0 500.0,637.3 503.0,612.0 505.4,637.3 511.4,586.8 516.0,612.0 528.4,637.3 540.6,612.0 543.0,637.3 546.0,586.8 549.4,637.3 554.4,561.5 559.4,637.3 562.4,612.0 567.0,637.3 571.0,612.0 575.0,637.3 581.6,586.8 587.6,637.3 590.6,612.0 596.4,637.3 602.0,612.0 604.6,637.3 607.0,612.0 611.4,637.3 616.0,612.0 620.6,536.2 624.0,612.0 627.4,637.3 632.4,612.0 635.4,637.3 639.4,586.8 642.0,612.0 644.4,586.8 649.4,637.3 652.0,612.0 657.4,586.8 664.0,637.3 668.0,586.8 671.4,637.3 674.0,586.8 677.0,561.5 680.6,586.8 685.6,536.2 689.0,586.8 691.4,612.0 695.6,561.5 700.4,612.0 702.0,561.5 704.4,586.8 707.6,561.5 712.0,586.8 716.0,612.0 721.0,586.8 724.6,637.3 729.4,561.5 735.4,637.3 741.6,586.8 746.0,612.0 750.0,586.8 765.4,637.3 772.0,561.5 780.0,637.3 785.0,561.5 789.4,637.3 793.0,612.0 798.0,637.3 806.0,586.8 809.4,637.3 811.6,612.0 817.0,637.3 821.6,612.0 824.0,637.3 827.0,586.8 829.4,612.0 835.6,637.3 843.4,612.0 849.4,637.3 853.0,612.0 856.4,561.5 863.6,637.3 875.0,561.5 880.0,612.0 884.6,561.5 887.6,612.0 892.4,637.3 898.6,612.0 902.6,637.3 915.6,586.8 919.4,612.0 928.0,637.3 936.6,612.0 939.4,586.8 943.4,637.3 947.6,612.0 951.6,637.3 955.6,586.8 960.6,637.3 965.4,586.8 967.0,612.0 968.4,586.8 973.0,637.3 978.4,586.8 981.6,637.3 983.6,612.0 988.4,637.3 995.4,612.0 1005.4,637.3 1011.0,612.0 1013.4,561.5 1017.6,612.0 1027.6,637.3 1036.4,612.0 1039.4,586.8 1043.4,637.3 1048.0,586.8 1055.6,637.3 1058.6,612.0 1062.0,637.3 1067.6,586.8 1073.4,637.3 1077.4,561.5 1079.0,586.8 1080.4,561.5 1087.0,637.3 1092.6,612.0 1095.6,637.3 1098.4,612.0 1102.4,637.3 1106.0,561.5 1113.4,637.3 1118.0,612.0 1124.4,637.3 1129.4,612.0 1131.6,536.2 1134.6,612.0 1141.6,637.3 1149.6,612.0 1154.4,637.3 1160.4,612.0 1167.0,637.3 1174.0,586.8 1183.0,637.3 1188.6,586.8 1192.0,637.3 1195.0,612.0 1210.6,637.3 1226.0,586.8 1229.4,637.3 1233.4,561.5 1236.4,612.0 1240.6,637.3 1248.0,586.8 1252.6,637.3 1257.6,586.8 1262.6,637.3 1266.0,612.0 1269.0,561.5 1273.0,612.0 1275.4,586.8 1277.4,612.0 1279.6,586.8 1283.6,637.3 1286.4,612.0 1289.0,637.3 1302.0,586.8 1304.6,561.5 1306.6,586.8 1309.4,561.5 1317.4,612.0 1321.4,586.8 1323.6,612.0 1327.6,561.5 1330.0,612.0 1335.0,637.3 1340.0,612.0 1342.4,586.8 1347.0,637.3 1349.4,561.5 1354.4,637.3 1357.6,612.0 1360.6,637.3 1364.0,586.8 1367.0,612.0 1375.6,637.3 1385.4,612.0 1389.4,637.3 1397.4,586.8 1403.6,637.3 1409.6,586.8 1413.4,612.0 1418.6,637.3 1423.4,612.0" fill="none" stroke="#00009b" stroke-width="0.8" stroke-linejoin="round" stroke-linecap="round"/>
<path d="M271 510.3V637.9" fill="none" stroke="#8a8a8a" stroke-width="1.5"/>
<path d="M259.1 510.9H271.6M259.1 637.3H271.6" fill="none" stroke="#404040" stroke-width="1.2"/>
<text x="252.3" y="513.7" font-size="12" text-anchor="end">4</text>
<text x="252.3" y="640.1" font-size="12" text-anchor="end">0</text>
<text transform="translate(73.2 720.7) scale(0.976 1.03)" font-size="24.2">GSM2680330</text>
<polygon points="274.0,777.6 274.0,777.6 278.6,693.7 285.0,777.6 292.4,735.8 302.4,777.6 311.4,693.7 319.4,777.6 323.4,693.7 326.6,735.8 329.4,777.6 333.4,735.8 347.4,777.6 360.4,735.8 364.4,777.6 368.0,735.8 371.4,777.6 375.4,693.7 378.6,777.6 386.6,693.7 391.4,777.6 395.6,693.7 413.6,777.6 417.6,693.7 423.4,777.6 427.0,727.4 429.6,693.7 433.0,735.8 436.4,693.7 439.0,735.8 446.4,777.6 455.4,735.8 458.4,777.6 461.4,735.8 478.6,777.6 495.6,735.8 500.6,777.6 503.6,735.8 506.4,651.6 509.4,735.8 512.4,693.7 515.4,735.8 534.6,777.6 555.0,735.8 571.0,777.6 586.6,735.8 611.0,777.6 634.4,735.8 646.4,777.6 660.0,735.8 663.0,777.6 670.4,693.7 675.0,777.6 681.6,693.7 686.6,777.6 690.0,693.7 692.4,651.6 694.0,693.7 698.0,651.6 704.4,693.7 710.0,777.6 712.4,735.8 716.6,777.6 721.0,735.8 724.0,777.6 728.0,735.8 732.4,777.6 736.0,735.8 742.6,777.6 748.6,735.8 751.6,777.6 755.6,735.8 767.6,777.6 778.4,735.8 781.4,651.6 784.0,693.7 793.0,777.6 802.4,735.8 804.6,693.7 808.4,777.6 812.4,693.7 817.4,777.6 820.6,693.7 830.4,777.6 834.4,735.8 840.6,777.6 846.6,735.8 852.4,777.6 858.0,735.8 865.6,777.6 872.4,735.8 884.0,777.6 894.4,735.8 902.6,777.6 911.0,735.8 915.0,777.6 919.6,735.8 923.0,777.6 925.4,735.8 930.4,777.6 936.6,735.8 958.6,777.6 979.4,735.8 984.0,777.6 986.6,735.8 989.6,693.7 994.0,735.8 1009.4,777.6 1024.6,735.8 1027.0,777.6 1029.4,735.8 1049.0,777.6 1069.4,735.8 1093.6,777.6 1117.4,735.8 1127.0,777.6 1137.6,735.8 1146.6,777.6 1155.4,735.8 1163.6,777.6 1170.0,735.8 1173.0,693.7 1178.6,777.6 1183.6,735.8 1208.4,777.6 1233.4,735.8 1241.6,777.6 1248.0,735.8 1250.4,693.7 1253.0,735.8 1264.4,777.6 1275.4,735.8 1277.4,693.7 1279.0,735.8 1291.6,777.6 1305.6,735.8 1314.6,777.6 1323.4,735.8 1329.4,777.6 1332.0,714.8 1335.0,651.6 1339.0,735.8 1363.4,777.6 1388.6,735.8 1399.4,777.6 1410.6,735.8 1416.6,777.6 1420.0,735.8 1421.8,693.7 1423.4,735.8 1423.4,777.6" fill="#0000ff"/>
<polyline points="274.0,778.0 278.6,693.7 285.0,778.0 292.4,735.8 302.4,778.0 311.4,693.7 319.4,778.0 323.4,693.7 326.6,735.8 329.4,778.0 333.4,735.8 347.4,778.0 360.4,735.8 364.4,778.0 368.0,735.8 371.4,778.0 375.4,693.7 378.6,778.0 386.6,693.7 391.4,778.0 395.6,693.7 413.6,778.0 417.6,693.7 423.4,778.0 427.0,727.4 429.6,693.7 433.0,735.8 436.4,693.7 439.0,735.8 446.4,778.0 455.4,735.8 458.4,778.0 461.4,735.8 478.6,778.0 495.6,735.8 500.6,778.0 503.6,735.8 506.4,651.6 509.4,735.8 512.4,693.7 515.4,735.8 534.6,778.0 555.0,735.8 571.0,778.0 586.6,735.8 611.0,778.0 634.4,735.8 646.4,778.0 660.0,735.8 663.0,778.0 670.4,693.7 675.0,778.0 681.6,693.7 686.6,778.0 690.0,693.7 692.4,651.6 694.0,693.7 698.0,651.6 704.4,693.7 710.0,778.0 712.4,735.8 716.6,778.0 721.0,735.8 724.0,778.0 728.0,735.8 732.4,778.0 736.0,735.8 742.6,778.0 748.6,735.8 751.6,778.0 755.6,735.8 767.6,778.0 778.4,735.8 781.4,651.6 784.0,693.7 793.0,778.0 802.4,735.8 804.6,693.7 808.4,778.0 812.4,693.7 817.4,778.0 820.6,693.7 830.4,778.0 834.4,735.8 840.6,778.0 846.6,735.8 852.4,778.0 858.0,735.8 865.6,778.0 872.4,735.8 884.0,778.0 894.4,735.8 902.6,778.0 911.0,735.8 915.0,778.0 919.6,735.8 923.0,778.0 925.4,735.8 930.4,778.0 936.6,735.8 958.6,778.0 979.4,735.8 984.0,778.0 986.6,735.8 989.6,693.7 994.0,735.8 1009.4,778.0 1024.6,735.8 1027.0,778.0 1029.4,735.8 1049.0,778.0 1069.4,735.8 1093.6,778.0 1117.4,735.8 1127.0,778.0 1137.6,735.8 1146.6,778.0 1155.4,735.8 1163.6,778.0 1170.0,735.8 1173.0,693.7 1178.6,778.0 1183.6,735.8 1208.4,778.0 1233.4,735.8 1241.6,778.0 1248.0,735.8 1250.4,693.7 1253.0,735.8 1264.4,778.0 1275.4,735.8 1277.4,693.7 1279.0,735.8 1291.6,778.0 1305.6,735.8 1314.6,778.0 1323.4,735.8 1329.4,778.0 1332.0,714.8 1335.0,651.6 1339.0,735.8 1363.4,778.0 1388.6,735.8 1399.4,778.0 1410.6,735.8 1416.6,778.0 1420.0,735.8 1421.8,693.7 1423.4,735.8" fill="none" stroke="#00009b" stroke-width="0.8" stroke-linejoin="round" stroke-linecap="round"/>
<path d="M271 651.0V778.6" fill="none" stroke="#8a8a8a" stroke-width="1.5"/>
<path d="M259.1 651.6H271.6M259.1 778.0H271.6" fill="none" stroke="#404040" stroke-width="1.2"/>
<text x="252.3" y="654.4" font-size="12" text-anchor="end">4</text>
<text x="252.3" y="780.8" font-size="12" text-anchor="end">0</text>
<text transform="translate(73.2 861.3) scale(0.976 1.03)" font-size="24.2">GSM2680329</text>
<polygon points="277.0,918.2 277.0,918.2 285.4,855.4 290.0,918.2 295.0,855.4 312.0,918.2 328.4,855.4 329.6,792.2 331.4,855.4 333.4,792.2 334.6,855.4 352.4,918.2 371.4,855.4 374.4,918.2 377.0,855.4 378.6,792.2 380.4,855.4 390.0,918.2 401.4,855.4 411.4,918.2 417.4,855.4 420.4,792.2 423.4,855.4 434.0,918.2 445.0,855.4 447.6,792.2 464.0,918.2 481.0,855.4 490.0,918.2 498.0,855.4 525.6,918.2 553.4,792.2 557.6,918.2 561.6,855.4 564.0,918.2 566.6,855.4 574.0,918.2 583.0,855.4 585.6,792.2 588.6,855.4 611.6,918.2 637.4,855.4 640.4,918.2 645.4,792.2 650.0,918.2 655.6,855.4 662.0,918.2 668.0,855.4 674.4,918.2 681.0,792.2 685.0,918.2 688.4,855.4 694.0,918.2 699.4,855.4 703.4,918.2 708.4,855.4 718.4,918.2 726.0,855.4 728.0,792.2 730.6,855.4 742.4,918.2 754.0,855.4 756.4,792.2 768.0,918.2 780.0,855.4 790.0,918.2 798.4,855.4 849.0,918.2 900.4,855.4 917.4,918.2 934.4,855.4 940.6,918.2 946.4,855.4 954.0,918.2 961.0,855.4 963.4,792.2 967.6,918.2 971.6,855.4 1036.4,918.2 1101.0,855.4 1131.0,918.2 1161.6,855.4 1183.0,918.2 1203.4,855.4 1228.4,918.2 1253.6,855.4 1278.0,918.2 1302.4,855.4 1307.4,918.2 1313.0,855.4 1318.6,918.2 1324.4,855.4 1327.4,918.2 1330.0,855.4 1347.6,918.2 1365.6,855.4 1374.6,918.2 1383.0,855.4 1385.4,792.2 1387.6,855.4 1400.6,918.2 1413.6,855.4 1415.4,792.2 1417.4,855.4 1421.0,918.2 1421.0,918.2" fill="#0000ff"/>
<polyline points="277.0,918.6 285.4,855.4 290.0,918.6 295.0,855.4 312.0,918.6 328.4,855.4 329.6,792.2 331.4,855.4 333.4,792.2 334.6,855.4 352.4,918.6 371.4,855.4 374.4,918.6 377.0,855.4 378.6,792.2 380.4,855.4 390.0,918.6 401.4,855.4 411.4,918.6 417.4,855.4 420.4,792.2 423.4,855.4 434.0,918.6 445.0,855.4 447.6,792.2 464.0,918.6 481.0,855.4 490.0,918.6 498.0,855.4 525.6,918.6 553.4,792.2 557.6,918.6 561.6,855.4 564.0,918.6 566.6,855.4 574.0,918.6 583.0,855.4 585.6,792.2 588.6,855.4 611.6,918.6 637.4,855.4 640.4,918.6 645.4,792.2 650.0,918.6 655.6,855.4 662.0,918.6 668.0,855.4 674.4,918.6 681.0,792.2 685.0,918.6 688.4,855.4 694.0,918.6 699.4,855.4 703.4,918.6 708.4,855.4 718.4,918.6 726.0,855.4 728.0,792.2 730.6,855.4 742.4,918.6 754.0,855.4 756.4,792.2 768.0,918.6 780.0,855.4 790.0,918.6 798.4,855.4 849.0,918.6 900.4,855.4 917.4,918.6 934.4,855.4 940.6,918.6 946.4,855.4 954.0,918.6 961.0,855.4 963.4,792.2 967.6,918.6 971.6,855.4 1036.4,918.6 1101.0,855.4 1131.0,918.6 1161.6,855.4 1183.0,918.6 1203.4,855.4 1228.4,918.6 1253.6,855.4 1278.0,918.6 1302.4,855.4 1307.4,918.6 1313.0,855.4 1318.6,918.6 1324.4,855.4 1327.4,918.6 1330.0,855.4 1347.6,918.6 1365.6,855.4 1374.6,918.6 1383.0,855.4 1385.4,792.2 1387.6,855.4 1400.6,918.6 1413.6,855.4 1415.4,792.2 1417.4,855.4 1421.0,918.6" fill="none" stroke="#00009b" stroke-width="0.8" stroke-linejoin="round" stroke-linecap="round"/>
<path d="M271 791.6V919.2" fill="none" stroke="#8a8a8a" stroke-width="1.5"/>
<path d="M259.1 792.2H271.6M259.1 918.6H271.6" fill="none" stroke="#404040" stroke-width="1.2"/>
<text x="252.3" y="795.0" font-size="12" text-anchor="end">6</text>
<text x="252.3" y="921.4" font-size="12" text-anchor="end">0</text>
<text transform="translate(73.2 1001.9) scale(0.976 1.03)" font-size="24.2">GSM2680328</text>
<polygon points="322.0,1058.8 322.0,1058.8 374.8,932.8 438.0,1058.8 501.2,932.8 513.2,1058.8 526.0,932.8 612.0,1058.8 698.0,932.8 718.8,1058.8 738.8,932.8 756.0,1058.8 773.2,932.8 792.0,1058.8 810.0,932.8 849.2,1058.8 888.0,932.8 981.2,1058.8 1076.0,932.8 1120.8,1058.8 1165.2,932.8 1211.2,1058.8 1256.8,932.8 1341.2,1058.8 1341.2,1058.8" fill="#0000ff"/>
<polyline points="322.0,1059.2 374.8,932.8 438.0,1059.2 501.2,932.8 513.2,1059.2 526.0,932.8 612.0,1059.2 698.0,932.8 718.8,1059.2 738.8,932.8 756.0,1059.2 773.2,932.8 792.0,1059.2 810.0,932.8 849.2,1059.2 888.0,932.8 981.2,1059.2 1076.0,932.8 1120.8,1059.2 1165.2,932.8 1211.2,1059.2 1256.8,932.8 1341.2,1059.2" fill="none" stroke="#00009b" stroke-width="0.8" stroke-linejoin="round" stroke-linecap="round"/>
<path d="M271 932.2V1059.8" fill="none" stroke="#8a8a8a" stroke-width="1.5"/>
<path d="M259.1 932.8H271.6M259.1 1059.2H271.6" fill="none" stroke="#404040" stroke-width="1.2"/>
<text x="252.3" y="935.6" font-size="12" text-anchor="end">19</text>
<text x="252.3" y="1062.0" font-size="12" text-anchor="end">0</text>
<text transform="translate(73.2 1142.6) scale(0.976 1.03)" font-size="24.2">GSM2680327</text>
<polygon points="271.2,1199.5 271.2,1136.7 338.8,1199.5 407.2,1136.7 426.0,1199.5 445.2,1136.7 506.8,1199.5 566.8,1136.7 572.0,1199.5 578.0,1136.7 627.2,1199.5 675.2,1136.7 680.0,1199.5 684.8,1136.7 687.2,1073.5 689.6,1136.7 714.8,1199.5 742.8,1136.7 754.0,1199.5 765.2,1136.7 774.0,1199.5 783.2,1136.7 812.0,1199.5 839.2,1136.7 866.0,1199.5 892.0,1136.7 899.2,1199.5 906.0,1136.7 944.8,1199.5 985.2,1136.7 1044.8,1199.5 1105.2,1136.7 1177.2,1199.5 1250.0,1136.7 1271.2,1199.5 1294.8,1136.7 1302.0,1199.5 1308.8,1136.7 1331.2,1199.5 1354.8,1136.7 1389.2,1199.5 1389.2,1199.5" fill="#0000ff"/>
<polyline points="271.2,1136.7 338.8,1199.9 407.2,1136.7 426.0,1199.9 445.2,1136.7 506.8,1199.9 566.8,1136.7 572.0,1199.9 578.0,1136.7 627.2,1199.9 675.2,1136.7 680.0,1199.9 684.8,1136.7 687.2,1073.5 689.6,1136.7 714.8,1199.9 742.8,1136.7 754.0,1199.9 765.2,1136.7 774.0,1199.9 783.2,1136.7 812.0,1199.9 839.2,1136.7 866.0,1199.9 892.0,1136.7 899.2,1199.9 906.0,1136.7 944.8,1199.9 985.2,1136.7 1044.8,1199.9 1105.2,1136.7 1177.2,1199.9 1250.0,1136.7 1271.2,1199.9 1294.8,1136.7 1302.0,1199.9 1308.8,1136.7 1331.2,1199.9 1354.8,1136.7 1389.2,1199.9" fill="none" stroke="#00009b" stroke-width="0.8" stroke-linejoin="round" stroke-linecap="round"/>
<path d="M271 1072.9V1200.5" fill="none" stroke="#8a8a8a" stroke-width="1.5"/>
<path d="M259.1 1073.5H271.6M259.1 1199.9H271.6" fill="none" stroke="#404040" stroke-width="1.2"/>
<text x="252.3" y="1076.3" font-size="12" text-anchor="end">15</text>
<text x="252.3" y="1202.7" font-size="12" text-anchor="end">0</text>
<text transform="translate(73.2 1283.2) scale(0.976 1.03)" font-size="24.2">GSM2680326</text>
<polygon points="338.8,1340.1 338.8,1340.1 410.0,1277.3 416.0,1340.1 421.2,1277.3 538.0,1340.1 654.8,1277.3 664.8,1340.1 676.0,1277.3 696.8,1340.1 717.2,1277.3 724.4,1340.1 731.2,1277.3 739.2,1340.1 747.2,1277.3 779.2,1340.1 811.2,1277.3 824.0,1340.1 836.0,1277.3 858.0,1340.1 878.8,1277.3 880.8,1214.1 882.8,1277.3 898.0,1340.1 913.2,1277.3 918.8,1340.1 924.8,1277.3 936.8,1340.1 948.8,1277.3 960.8,1340.1 971.2,1277.3 981.2,1340.1 990.0,1277.3 1024.8,1340.1 1059.2,1277.3 1062.0,1340.1 1065.2,1277.3 1165.2,1340.1 1265.2,1277.3 1271.2,1340.1 1278.0,1277.3 1293.2,1340.1 1306.0,1277.3 1322.0,1340.1 1338.8,1277.3 1354.0,1340.1 1367.2,1277.3 1393.2,1340.1 1419.6,1277.3 1422.8,1340.1 1422.8,1340.1" fill="#0000ff"/>
<polyline points="338.8,1340.5 410.0,1277.3 416.0,1340.5 421.2,1277.3 538.0,1340.5 654.8,1277.3 664.8,1340.5 676.0,1277.3 696.8,1340.5 717.2,1277.3 724.4,1340.5 731.2,1277.3 739.2,1340.5 747.2,1277.3 779.2,1340.5 811.2,1277.3 824.0,1340.5 836.0,1277.3 858.0,1340.5 878.8,1277.3 880.8,1214.1 882.8,1277.3 898.0,1340.5 913.2,1277.3 918.8,1340.5 924.8,1277.3 936.8,1340.5 948.8,1277.3 960.8,1340.5 971.2,1277.3 981.2,1340.5 990.0,1277.3 1024.8,1340.5 1059.2,1277.3 1062.0,1340.5 1065.2,1277.3 1165.2,1340.5 1265.2,1277.3 1271.2,1340.5 1278.0,1277.3 1293.2,1340.5 1306.0,1277.3 1322.0,1340.5 1338.8,1277.3 1354.0,1340.5 1367.2,1277.3 1393.2,1340.5 1419.6,1277.3 1422.8,1340.5" fill="none" stroke="#00009b" stroke-width="0.8" stroke-linejoin="round" stroke-linecap="round"/>
<path d="M271 1213.5V1341.1" fill="none" stroke="#8a8a8a" stroke-width="1.5"/>
<path d="M259.1 1214.1H271.6M259.1 1340.5H271.6" fill="none" stroke="#404040" stroke-width="1.2"/>
<text x="252.3" y="1216.9" font-size="12" text-anchor="end">12</text>
<text x="252.3" y="1343.3" font-size="12" text-anchor="end">0</text>
<text transform="translate(73.2 1423.9) scale(0.976 1.03)" font-size="24.2">GSM2680325</text>
<polygon points="273.0,1480.8 273.0,1463.1 278.4,1480.8 284.4,1463.1 289.4,1427.0 296.4,1480.8 302.4,1463.1 303.6,1445.0 305.6,1463.1 307.0,1445.0 311.4,1427.0 315.6,1445.0 317.4,1480.8 319.6,1463.1 322.6,1480.8 326.0,1463.1 329.4,1480.8 334.6,1445.0 337.6,1463.1 339.6,1445.0 343.6,1463.1 347.6,1445.0 350.4,1390.9 352.6,1427.0 355.6,1463.1 359.4,1480.8 362.4,1427.0 365.0,1408.9 367.4,1427.0 371.4,1480.8 375.4,1463.1 377.4,1445.0 380.4,1480.8 382.6,1463.1 386.6,1480.8 390.0,1427.0 391.4,1408.9 393.4,1427.0 396.4,1354.8 398.4,1372.8 403.0,1480.8 409.4,1427.0 411.2,1463.1 412.6,1427.0 419.6,1480.8 422.4,1427.0 426.6,1480.8 429.6,1463.1 432.4,1480.8 438.6,1427.0 442.4,1480.8 445.4,1427.0 452.0,1480.8 458.0,1427.0 462.0,1463.1 467.6,1480.8 472.4,1463.1 476.4,1480.8 481.6,1427.0 488.0,1480.8 492.4,1427.0 495.0,1463.1 497.4,1480.8 503.6,1445.0 507.0,1463.1 510.0,1445.0 512.4,1463.1 518.6,1480.8 525.6,1463.1 531.6,1480.8 538.0,1463.1 541.4,1480.8 544.4,1463.1 548.4,1480.8 552.0,1445.0 554.0,1408.9 557.4,1480.8 559.6,1463.1 562.4,1480.8 564.6,1445.0 567.0,1463.1 570.0,1408.9 572.0,1427.0 573.6,1480.8 579.4,1463.1 585.0,1480.8 588.4,1463.1 592.4,1480.8 595.4,1463.1 598.0,1480.8 601.4,1445.0 604.4,1463.1 606.4,1427.0 613.4,1480.8 620.6,1408.9 624.0,1445.0 626.6,1427.0 630.0,1445.0 632.6,1480.8 635.4,1445.0 638.6,1427.0 642.0,1463.1 643.6,1445.0 646.0,1463.1 648.0,1445.0 651.4,1390.9 653.6,1427.0 656.0,1390.9 658.2,1354.8 660.0,1390.9 663.0,1372.8 668.4,1427.0 672.6,1372.8 674.6,1427.0 676.4,1480.8 682.0,1445.0 688.4,1372.8 690.6,1427.0 692.2,1408.9 695.6,1480.8 701.4,1463.1 707.6,1480.8 712.4,1427.0 716.0,1463.1 722.4,1427.0 732.0,1480.8 735.0,1463.1 739.4,1408.9 742.0,1445.0 747.4,1480.8 750.0,1463.1 753.4,1480.8 755.6,1463.1 757.4,1390.9 763.6,1480.8 767.0,1463.1 769.4,1427.0 773.6,1463.1 777.0,1445.0 780.0,1427.0 781.6,1463.1 785.0,1408.9 793.6,1480.8 801.0,1445.0 802.6,1408.9 806.0,1436.0 812.0,1463.1 817.0,1445.0 819.0,1427.0 823.4,1463.1 827.4,1427.0 830.6,1463.1 834.0,1480.8 837.6,1445.0 841.0,1480.8 845.0,1463.1 852.0,1480.8 858.6,1445.0 864.6,1480.8 868.6,1463.1 871.0,1480.8 876.0,1427.0 879.0,1463.1 882.4,1427.0 887.4,1480.8 889.4,1427.0 891.4,1408.9 893.6,1427.0 896.4,1480.8 901.6,1427.0 905.0,1463.1 906.6,1445.0 911.4,1480.8 915.6,1408.9 919.6,1463.1 922.4,1445.0 928.0,1480.8 932.0,1445.0 936.0,1463.1 941.6,1427.0 946.0,1463.1 949.6,1480.8 953.0,1445.0 958.0,1463.1 962.6,1445.0 966.6,1480.8 970.4,1445.0 973.6,1480.8 976.0,1463.1 978.6,1480.8 981.6,1445.0 983.4,1463.1 986.4,1445.0 994.4,1480.8 999.0,1463.1 1001.0,1480.8 1003.6,1445.0 1007.6,1480.8 1010.0,1463.1 1012.4,1480.8 1014.6,1445.0 1018.0,1463.1 1025.4,1427.0 1030.0,1445.0 1035.0,1427.0 1037.6,1463.1 1040.6,1480.8 1046.4,1445.0 1051.6,1480.8 1057.0,1445.0 1059.6,1480.8 1063.4,1445.0 1066.0,1463.1 1068.4,1445.0 1077.4,1480.8 1081.0,1463.1 1084.0,1408.9 1090.0,1463.1 1095.4,1480.8 1101.0,1445.0 1103.4,1390.9 1107.0,1445.0 1112.0,1463.1 1118.6,1480.8 1124.4,1427.0 1126.6,1445.0 1137.0,1480.8 1153.0,1463.1 1167.6,1480.8 1170.0,1477.5 1177.4,1463.1 1179.6,1445.0 1182.0,1463.1 1186.4,1480.8 1195.0,1463.1 1201.6,1480.8 1205.6,1445.0 1209.0,1480.8 1211.4,1463.1 1222.0,1480.8 1231.6,1463.1 1234.4,1427.0 1237.4,1463.1 1240.4,1445.0 1245.6,1480.8 1251.0,1463.1 1254.6,1480.8 1259.4,1463.1 1267.0,1480.8 1273.4,1445.0 1284.4,1480.8 1295.0,1463.1 1296.6,1445.0 1300.6,1480.8 1305.6,1463.1 1313.0,1480.8 1319.6,1463.1 1323.4,1408.9 1326.4,1463.1 1333.6,1480.8 1344.0,1463.1 1353.6,1480.8 1361.6,1427.0 1363.4,1445.0 1365.6,1427.0 1371.6,1463.1 1378.6,1480.8 1384.4,1463.1 1386.0,1427.0 1390.4,1480.8 1393.4,1463.1 1396.0,1480.8 1398.4,1463.1 1403.4,1445.0 1412.4,1480.8 1418.6,1463.1 1421.6,1445.0 1423.4,1408.9 1423.4,1480.8" fill="#0000ff"/>
<polyline points="273.0,1463.1 278.4,1481.2 284.4,1463.1 289.4,1427.0 296.4,1481.2 302.4,1463.1 303.6,1445.0 305.6,1463.1 307.0,1445.0 311.4,1427.0 315.6,1445.0 317.4,1481.2 319.6,1463.1 322.6,1481.2 326.0,1463.1 329.4,1481.2 334.6,1445.0 337.6,1463.1 339.6,1445.0 343.6,1463.1 347.6,1445.0 350.4,1390.9 352.6,1427.0 355.6,1463.1 359.4,1481.2 362.4,1427.0 365.0,1408.9 367.4,1427.0 371.4,1481.2 375.4,1463.1 377.4,1445.0 380.4,1481.2 382.6,1463.1 386.6,1481.2 390.0,1427.0 391.4,1408.9 393.4,1427.0 396.4,1354.8 398.4,1372.8 403.0,1481.2 409.4,1427.0 411.2,1463.1 412.6,1427.0 419.6,1481.2 422.4,1427.0 426.6,1481.2 429.6,1463.1 432.4,1481.2 438.6,1427.0 442.4,1481.2 445.4,1427.0 452.0,1481.2 458.0,1427.0 462.0,1463.1 467.6,1481.2 472.4,1463.1 476.4,1481.2 481.6,1427.0 488.0,1481.2 492.4,1427.0 495.0,1463.1 497.4,1481.2 503.6,1445.0 507.0,1463.1 510.0,1445.0 512.4,1463.1 518.6,1481.2 525.6,1463.1 531.6,1481.2 538.0,1463.1 541.4,1481.2 544.4,1463.1 548.4,1481.2 552.0,1445.0 554.0,1408.9 557.4,1481.2 559.6,1463.1 562.4,1481.2 564.6,1445.0 567.0,1463.1 570.0,1408.9 572.0,1427.0 573.6,1481.2 579.4,1463.1 585.0,1481.2 588.4,1463.1 592.4,1481.2 595.4,1463.1 598.0,1481.2 601.4,1445.0 604.4,1463.1 606.4,1427.0 613.4,1481.2 620.6,1408.9 624.0,1445.0 626.6,1427.0 630.0,1445.0 632.6,1481.2 635.4,1445.0 638.6,1427.0 642.0,1463.1 643.6,1445.0 646.0,1463.1 648.0,1445.0 651.4,1390.9 653.6,1427.0 656.0,1390.9 658.2,1354.8 660.0,1390.9 663.0,1372.8 668.4,1427.0 672.6,1372.8 674.6,1427.0 676.4,1481.2 682.0,1445.0 688.4,1372.8 690.6,1427.0 692.2,1408.9 695.6,1481.2 701.4,1463.1 707.6,1481.2 712.4,1427.0 716.0,1463.1 722.4,1427.0 732.0,1481.2 735.0,1463.1 739.4,1408.9 742.0,1445.0 747.4,1481.2 750.0,1463.1 753.4,1481.2 755.6,1463.1 757.4,1390.9 763.6,1481.2 767.0,1463.1 769.4,1427.0 773.6,1463.1 777.0,1445.0 780.0,1427.0 781.6,1463.1 785.0,1408.9 793.6,1481.2 801.0,1445.0 802.6,1408.9 806.0,1436.0 812.0,1463.1 817.0,1445.0 819.0,1427.0 823.4,1463.1 827.4,1427.0 830.6,1463.1 834.0,1481.2 837.6,1445.0 841.0,1481.2 845.0,1463.1 852.0,1481.2 858.6,1445.0 864.6,1481.2 868.6,1463.1 871.0,1481.2 876.0,1427.0 879.0,1463.1 882.4,1427.0 887.4,1481.2 889.4,1427.0 891.4,1408.9 893.6,1427.0 896.4,1481.2 901.6,1427.0 905.0,1463.1 906.6,1445.0 911.4,1481.2 915.6,1408.9 919.6,1463.1 922.4,1445.0 928.0,1481.2 932.0,1445.0 936.0,1463.1 941.6,1427.0 946.0,1463.1 949.6,1481.2 953.0,1445.0 958.0,1463.1 962.6,1445.0 966.6,1481.2 970.4,1445.0 973.6,1481.2 976.0,1463.1 978.6,1481.2 981.6,1445.0 983.4,1463.1 986.4,1445.0 994.4,1481.2 999.0,1463.1 1001.0,1481.2 1003.6,1445.0 1007.6,1481.2 1010.0,1463.1 1012.4,1481.2 1014.6,1445.0 1018.0,1463.1 1025.4,1427.0 1030.0,1445.0 1035.0,1427.0 1037.6,1463.1 1040.6,1481.2 1046.4,1445.0 1051.6,1481.2 1057.0,1445.0 1059.6,1481.2 1063.4,1445.0 1066.0,1463.1 1068.4,1445.0 1077.4,1481.2 1081.0,1463.1 1084.0,1408.9 1090.0,1463.1 1095.4,1481.2 1101.0,1445.0 1103.4,1390.9 1107.0,1445.0 1112.0,1463.1 1118.6,1481.2 1124.4,1427.0 1126.6,1445.0 1137.0,1481.2 1153.0,1463.1 1167.6,1481.2 1170.0,1477.5 1177.4,1463.1 1179.6,1445.0 1182.0,1463.1 1186.4,1481.2 1195.0,1463.1 1201.6,1481.2 1205.6,1445.0 1209.0,1481.2 1211.4,1463.1 1222.0,1481.2 1231.6,1463.1 1234.4,1427.0 1237.4,1463.1 1240.4,1445.0 1245.6,1481.2 1251.0,1463.1 1254.6,1481.2 1259.4,1463.1 1267.0,1481.2 1273.4,1445.0 1284.4,1481.2 1295.0,1463.1 1296.6,1445.0 1300.6,1481.2 1305.6,1463.1 1313.0,1481.2 1319.6,1463.1 1323.4,1408.9 1326.4,1463.1 1333.6,1481.2 1344.0,1463.1 1353.6,1481.2 1361.6,1427.0 1363.4,1445.0 1365.6,1427.0 1371.6,1463.1 1378.6,1481.2 1384.4,1463.1 1386.0,1427.0 1390.4,1481.2 1393.4,1463.1 1396.0,1481.2 1398.4,1463.1 1403.4,1445.0 1412.4,1481.2 1418.6,1463.1 1421.6,1445.0 1423.4,1408.9" fill="none" stroke="#00009b" stroke-width="0.8" stroke-linejoin="round" stroke-linecap="round"/>
<path d="M271 1354.2V1481.8" fill="none" stroke="#8a8a8a" stroke-width="1.5"/>
<path d="M259.1 1354.8H271.6M259.1 1481.2H271.6" fill="none" stroke="#404040" stroke-width="1.2"/>
<text x="252.3" y="1357.6" font-size="12" text-anchor="end">5</text>
<text x="252.3" y="1484.0" font-size="12" text-anchor="end">0</text>
<text transform="translate(73.2 1564.5) scale(0.976 1.03)" font-size="24.2">GSM2680324</text>
<text transform="translate(73.2 1705.1) scale(0.976 1.03)" font-size="24.2">GSM2680323</text>
<polygon points="271.4,1762.0 271.4,1737.2 274.0,1762.0 277.6,1737.2 281.4,1762.0 285.4,1737.2 290.0,1762.0 293.6,1737.2 295.6,1762.0 299.0,1737.2 302.4,1762.0 305.6,1737.2 312.4,1762.0 318.0,1737.2 323.4,1686.6 327.0,1737.2 329.6,1762.0 332.4,1737.2 335.0,1762.0 339.6,1737.2 345.6,1762.0 348.4,1737.2 351.0,1686.6 353.6,1737.2 358.4,1762.0 363.4,1737.2 368.4,1762.0 372.6,1737.2 375.4,1686.6 379.4,1762.0 382.6,1737.2 385.4,1762.0 390.0,1737.2 395.0,1762.0 399.6,1737.2 404.4,1762.0 407.4,1686.6 410.6,1711.9 414.4,1661.3 418.4,1711.9 422.4,1762.0 428.0,1737.2 432.4,1686.6 435.4,1737.2 437.4,1711.9 440.0,1737.2 446.4,1762.0 452.4,1737.2 457.6,1762.0 463.4,1737.2 473.6,1762.0 483.6,1737.2 497.4,1762.0 510.0,1737.2 512.0,1711.9 516.0,1762.0 520.0,1711.9 523.0,1737.2 534.0,1762.0 545.4,1711.9 550.4,1762.0 555.0,1737.2 558.4,1762.0 561.4,1737.2 568.0,1762.0 573.6,1737.2 585.0,1762.0 597.4,1737.2 605.6,1762.0 611.6,1737.2 613.4,1711.9 616.0,1762.0 618.4,1737.2 622.4,1762.0 626.6,1737.2 630.6,1762.0 635.4,1737.2 638.6,1762.0 642.0,1711.9 645.0,1762.0 647.6,1711.9 653.6,1762.0 659.0,1737.2 665.6,1762.0 672.6,1737.2 679.4,1762.0 685.0,1737.2 688.6,1762.0 697.0,1711.9 706.4,1762.0 714.4,1737.2 720.0,1762.0 722.4,1737.2 724.6,1762.0 728.0,1737.2 735.6,1762.0 741.6,1737.2 744.4,1711.9 750.0,1762.0 754.0,1686.6 758.6,1762.0 763.6,1711.9 767.0,1737.2 771.6,1762.0 776.6,1711.9 778.4,1737.2 780.0,1711.9 790.0,1762.0 795.6,1737.2 800.6,1762.0 804.6,1711.9 807.6,1737.2 811.6,1711.9 819.0,1762.0 821.6,1711.9 824.6,1762.0 828.0,1737.2 834.6,1762.0 841.0,1737.2 847.0,1762.0 853.4,1737.2 860.6,1762.0 867.0,1737.2 869.6,1711.9 872.0,1737.2 881.6,1762.0 891.6,1737.2 893.6,1762.0 897.6,1711.9 906.0,1762.0 911.6,1711.9 916.4,1737.2 923.4,1762.0 931.4,1737.2 936.0,1762.0 940.0,1737.2 944.4,1762.0 949.0,1737.2 953.4,1762.0 956.4,1737.2 958.6,1762.0 963.4,1737.2 982.6,1762.0 998.6,1737.2 1003.6,1762.0 1009.4,1737.2 1016.6,1762.0 1023.0,1737.2 1028.6,1762.0 1035.4,1737.2 1046.6,1762.0 1058.0,1737.2 1062.0,1762.0 1066.0,1737.2 1070.4,1762.0 1074.4,1737.2 1077.4,1762.0 1081.4,1711.9 1085.4,1762.0 1089.4,1737.2 1097.6,1762.0 1106.6,1737.2 1114.6,1762.0 1122.6,1737.2 1129.4,1762.0 1136.0,1737.2 1147.4,1762.0 1158.0,1737.2 1169.4,1762.0 1181.4,1737.2 1196.6,1762.0 1211.6,1737.2 1213.6,1762.0 1216.4,1737.2 1220.4,1762.0 1225.4,1737.2 1228.6,1762.0 1231.6,1737.2 1239.4,1762.0 1246.4,1737.2 1249.4,1762.0 1252.0,1737.2 1258.6,1762.0 1265.6,1737.2 1270.6,1762.0 1274.0,1737.2 1277.4,1711.9 1280.6,1737.2 1294.4,1762.0 1308.0,1737.2 1310.4,1711.9 1313.4,1737.2 1318.6,1762.0 1326.0,1737.2 1336.4,1762.0 1346.4,1737.2 1348.6,1762.0 1351.4,1711.9 1358.6,1762.0 1365.0,1737.2 1369.6,1686.6 1376.6,1762.0 1381.4,1636.0 1385.0,1711.9 1389.4,1737.2 1394.4,1711.9 1395.6,1737.2 1397.4,1711.9 1402.4,1762.0 1405.6,1711.9 1408.0,1737.2 1412.4,1762.0 1419.6,1737.2 1419.6,1762.0" fill="#0000ff"/>
<polyline points="271.4,1737.2 274.0,1762.4 277.6,1737.2 281.4,1762.4 285.4,1737.2 290.0,1762.4 293.6,1737.2 295.6,1762.4 299.0,1737.2 302.4,1762.4 305.6,1737.2 312.4,1762.4 318.0,1737.2 323.4,1686.6 327.0,1737.2 329.6,1762.4 332.4,1737.2 335.0,1762.4 339.6,1737.2 345.6,1762.4 348.4,1737.2 351.0,1686.6 353.6,1737.2 358.4,1762.4 363.4,1737.2 368.4,1762.4 372.6,1737.2 375.4,1686.6 379.4,1762.4 382.6,1737.2 385.4,1762.4 390.0,1737.2 395.0,1762.4 399.6,1737.2 404.4,1762.4 407.4,1686.6 410.6,1711.9 414.4,1661.3 418.4,1711.9 422.4,1762.4 428.0,1737.2 432.4,1686.6 435.4,1737.2 437.4,1711.9 440.0,1737.2 446.4,1762.4 452.4,1737.2 457.6,1762.4 463.4,1737.2 473.6,1762.4 483.6,1737.2 497.4,1762.4 510.0,1737.2 512.0,1711.9 516.0,1762.4 520.0,1711.9 523.0,1737.2 534.0,1762.4 545.4,1711.9 550.4,1762.4 555.0,1737.2 558.4,1762.4 561.4,1737.2 568.0,1762.4 573.6,1737.2 585.0,1762.4 597.4,1737.2 605.6,1762.4 611.6,1737.2 613.4,1711.9 616.0,1762.4 618.4,1737.2 622.4,1762.4 626.6,1737.2 630.6,1762.4 635.4,1737.2 638.6,1762.4 642.0,1711.9 645.0,1762.4 647.6,1711.9 653.6,1762.4 659.0,1737.2 665.6,1762.4 672.6,1737.2 679.4,1762.4 685.0,1737.2 688.6,1762.4 697.0,1711.9 706.4,1762.4 714.4,1737.2 720.0,1762.4 722.4,1737.2 724.6,1762.4 728.0,1737.2 735.6,1762.4 741.6,1737.2 744.4,1711.9 750.0,1762.4 754.0,1686.6 758.6,1762.4 763.6,1711.9 767.0,1737.2 771.6,1762.4 776.6,1711.9 778.4,1737.2 780.0,1711.9 790.0,1762.4 795.6,1737.2 800.6,1762.4 804.6,1711.9 807.6,1737.2 811.6,1711.9 819.0,1762.4 821.6,1711.9 824.6,1762.4 828.0,1737.2 834.6,1762.4 841.0,1737.2 847.0,1762.4 853.4,1737.2 860.6,1762.4 867.0,1737.2 869.6,1711.9 872.0,1737.2 881.6,1762.4 891.6,1737.2 893.6,1762.4 897.6,1711.9 906.0,1762.4 911.6,1711.9 916.4,1737.2 923.4,1762.4 931.4,1737.2 936.0,1762.4 940.0,1737.2 944.4,1762.4 949.0,1737.2 953.4,1762.4 956.4,1737.2 958.6,1762.4 963.4,1737.2 982.6,1762.4 998.6,1737.2 1003.6,1762.4 1009.4,1737.2 1016.6,1762.4 1023.0,1737.2 1028.6,1762.4 1035.4,1737.2 1046.6,1762.4 1058.0,1737.2 1062.0,1762.4 1066.0,1737.2 1070.4,1762.4 1074.4,1737.2 1077.4,1762.4 1081.4,1711.9 1085.4,1762.4 1089.4,1737.2 1097.6,1762.4 1106.6,1737.2 1114.6,1762.4 1122.6,1737.2 1129.4,1762.4 1136.0,1737.2 1147.4,1762.4 1158.0,1737.2 1169.4,1762.4 1181.4,1737.2 1196.6,1762.4 1211.6,1737.2 1213.6,1762.4 1216.4,1737.2 1220.4,1762.4 1225.4,1737.2 1228.6,1762.4 1231.6,1737.2 1239.4,1762.4 1246.4,1737.2 1249.4,1762.4 1252.0,1737.2 1258.6,1762.4 1265.6,1737.2 1270.6,1762.4 1274.0,1737.2 1277.4,1711.9 1280.6,1737.2 1294.4,1762.4 1308.0,1737.2 1310.4,1711.9 1313.4,1737.2 1318.6,1762.4 1326.0,1737.2 1336.4,1762.4 1346.4,1737.2 1348.6,1762.4 1351.4,1711.9 1358.6,1762.4 1365.0,1737.2 1369.6,1686.6 1376.6,1762.4 1381.4,1636.0 1385.0,1711.9 1389.4,1737.2 1394.4,1711.9 1395.6,1737.2 1397.4,1711.9 1402.4,1762.4 1405.6,1711.9 1408.0,1737.2 1412.4,1762.4 1419.6,1737.2" fill="none" stroke="#00009b" stroke-width="0.8" stroke-linejoin="round" stroke-linecap="round"/>
<path d="M271 1635.4V1763.0" fill="none" stroke="#8a8a8a" stroke-width="1.5"/>
<path d="M259.1 1636.0H271.6M259.1 1762.4H271.6" fill="none" stroke="#404040" stroke-width="1.2"/>
<text x="252.3" y="1638.8" font-size="12" text-anchor="end">5</text>
<text x="252.3" y="1765.2" font-size="12" text-anchor="end">0</text>
<text transform="translate(88.7 1995) scale(1.011 1)" font-size="48">chr1</text>
<path d="M270.6 1955H1423.9M270.6 2001.2H1423.9" stroke="#7a7a7a" stroke-width="1.3" fill="none"/>
<path d="M309.5 2001.2V2019.7M374.5 2001.2V2019.7M439.5 2001.2V2047.2M504.5 2001.2V2019.7M569.5 2001.2V2019.7M634.5 2001.2V2019.7M699.5 2001.2V2019.7M764.5 2001.2V2047.2M829.5 2001.2V2019.7M894.5 2001.2V2019.7M959.5 2001.2V2019.7M1024.5 2001.2V2019.7M1089.5 2001.2V2047.2M1154.5 2001.2V2019.7M1219.5 2001.2V2019.7M1284.5 2001.2V2019.7M1349.5 2001.2V2019.7M1414.5 2001.2V2047.2" stroke="#333" stroke-width="1" fill="none"/>
<text transform="translate(439.9 2063.2) scale(0.981 1.012)" font-size="24.2" text-anchor="middle">248.49Mb</text>
<text transform="translate(764.9 2063.2) scale(0.981 1.012)" font-size="24.2" text-anchor="middle">248.5Mb</text>
<text transform="translate(1089.9 2063.2) scale(0.981 1.012)" font-size="24.2" text-anchor="middle">248.51Mb</text>
<text transform="translate(1414.9 2063.2) scale(0.981 1.012)" font-size="24.2" text-anchor="middle">248.52Mb</text>
</svg></body></html>
